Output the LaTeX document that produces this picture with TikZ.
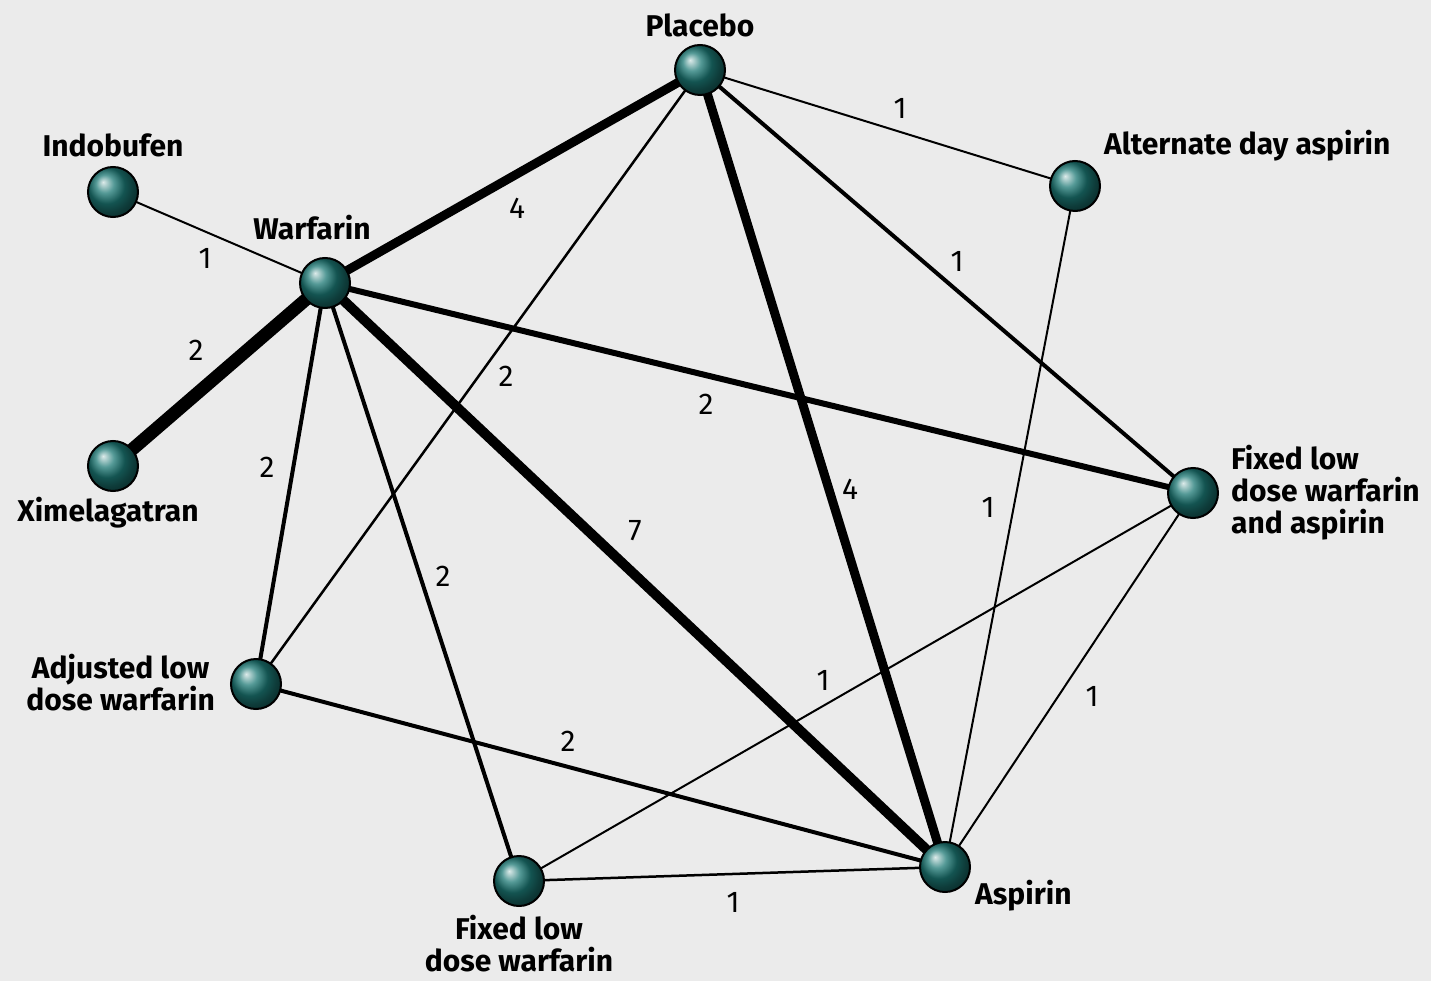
\documentclass[tikz,border=0pt]{standalone}
\usepackage{fontspec}
\setmainfont{Fira Sans}
\begin{document}
\begin{tikzpicture}[x=1pt,y=-1pt,
  ballnode/.style={circle,minimum size=50pt,inner sep=0pt,draw=black,line width=2pt,ball color={rgb,255:red,28;green,120;blue,116}},
  drugname/.style={font=\fontsize{30}{32}\selectfont\bfseries,align=center,inner sep=0pt},
  numlbl/.style={font=\fontsize{30}{30}\selectfont,inner sep=0pt},
  edg/.style={line width=#1pt,black}]
\fill[fill={rgb,255:red,235;green,235;blue,235}] (0,0) rectangle (1431,981);
\useasboundingbox (0,0) rectangle (1431,981);
% coordinates of balls
\coordinate (P) at (700,70);
\coordinate (AD) at (1075,186);
\coordinate (I) at (113,192);
\coordinate (W) at (325,283);
\coordinate (X) at (113,466);
\coordinate (FA) at (1193,493);
\coordinate (AL) at (256,684);
\coordinate (FL) at (519,881);
\coordinate (A) at (945,867);
% edges
\draw[edg=9] (P) -- (W);
\draw[edg=2] (P) -- (AD);
\draw[edg=4] (P) -- (FA);
\draw[edg=9] (P) -- (A);
\draw[edg=2.5] (P) -- (AL);
\draw[edg=2] (I) -- (W);
\draw[edg=13] (W) -- (X);
\draw[edg=4] (W) -- (AL);
\draw[edg=4] (W) -- (FL);
\draw[edg=10] (W) -- (A);
\draw[edg=6] (W) -- (FA);
\draw[edg=2] (AD) -- (A);
\draw[edg=2] (FA) -- (A);
\draw[edg=2] (FA) -- (FL);
\draw[edg=4] (AL) -- (A);
\draw[edg=2.5] (FL) -- (A);
% balls
\node[ballnode] (nP) at (P) {};
\node[ballnode] (nAD) at (AD) {};
\node[ballnode] (nI) at (I) {};
\node[ballnode] (nW) at (W) {};
\node[ballnode] (nX) at (X) {};
\node[ballnode] (nFA) at (FA) {};
\node[ballnode] (nAL) at (AL) {};
\node[ballnode] (nFL) at (FL) {};
\node[ballnode] (nA) at (A) {};
% names
\node[drugname] (tP) at (700,25) {Placebo};
\node[drugname,anchor=west] (tAD) at (1104,146) {Alternate day aspirin};
\node[drugname] (tI) at (113,145) {Indobufen};
\node[drugname] (tW) at (312,228) {Warfarin};
\node[drugname] (tX) at (108,513) {Ximelagatran};
\node[drugname,anchor=west,align=left] (tFA) at (1231,493) {Fixed low\\dose warfarin\\and aspirin};
\node[drugname,anchor=east,align=center] (tAL) at (215,683) {Adjusted low\\dose warfarin};
\node[drugname] (tFL) at (519,944) {Fixed low\\dose warfarin};
\node[drugname,anchor=west] (tA) at (975,896) {Aspirin};
% numbers
\node[numlbl] (n1) at (517,208) {4};
\node[numlbl] (n2) at (900,108) {1};
\node[numlbl] (n3) at (957,261) {1};
\node[numlbl] (n4) at (850,489) {4};
\node[numlbl] (n5) at (506,376) {2};
\node[numlbl] (n6) at (205,258) {1};
\node[numlbl] (n7) at (196,350) {2};
\node[numlbl] (n8) at (267,467) {2};
\node[numlbl] (n9) at (443,576) {2};
\node[numlbl] (n10) at (635,531) {7};
\node[numlbl] (n11) at (706,404) {2};
\node[numlbl] (n12) at (988,507) {1};
\node[numlbl] (n13) at (1092,696) {1};
\node[numlbl] (n14) at (823,680) {1};
\node[numlbl] (n15) at (568,741) {2};
\node[numlbl] (n16) at (733,902) {1};
\end{tikzpicture}
\end{document}
